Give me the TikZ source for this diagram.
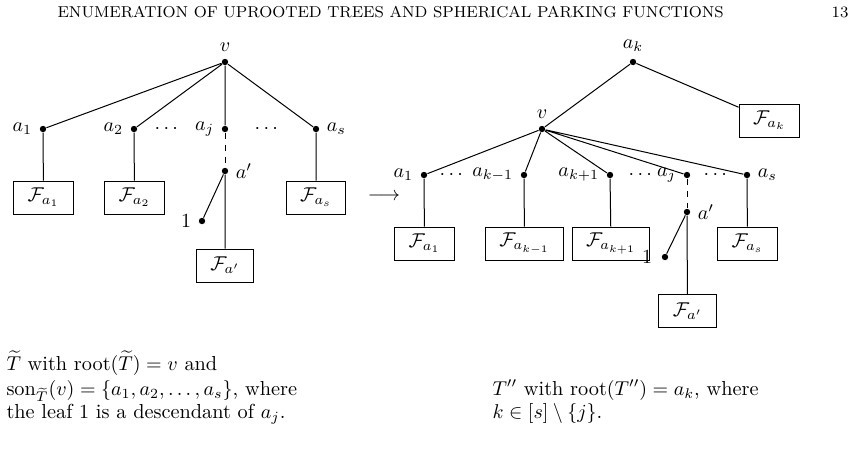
\documentclass[tikz,border=0pt]{standalone}
\usepackage{amsmath,amssymb}
\newcommand\bodyfnt{\fontsize{10.15}{12.2}\selectfont}
\newcommand\headfnt{\fontsize{7.9}{9}\selectfont}
\begin{document}
\begin{tikzpicture}[x=0.5pt,y=-0.5pt,line width=0.5pt,
  every node/.style={font=\bodyfnt},
  dot/.style={circle,fill,inner sep=0pt,minimum size=3.2pt},
  fbox/.style={draw,minimum height=16.5pt,inner xsep=7pt,inner ysep=2pt},
  txt/.style={anchor=base west,inner sep=0pt}]
\useasboundingbox (0,0) rectangle (857,462);
% header
\node[anchor=base west,inner sep=0pt,font=\headfnt] (head) at (57,17) {ENUMERATION OF UPROOTED TREES AND SPHERICAL PARKING FUNCTIONS};
\node[anchor=base east,inner sep=0pt,font=\headfnt] (pg) at (849,17) {13};
% ---------- left tree ----------
\node[dot,label={above:$v$}] (v) at (225,62) {};
\node[dot,label={left:$a_1$}] (a1) at (43,129) {};
\node[dot,label={left:$a_2$}] (a2) at (134,129) {};
\node[dot,label={left:$a_j$}] (aj) at (225,129) {};
\node[dot,label={right:$a_s$}] (as) at (316,129) {};
\node (d1) at (168,129) {$\cdots$};
\node (d2) at (268,129) {$\cdots$};
\node[dot,label={right:$a'$}] (ap) at (225,171) {};
\node[dot,label={left:$1$}] (one) at (202,221) {};
\node[fbox] (Fa1) at (43.5,197.5) {$\mathcal{F}_{a_1}$};
\node[fbox] (Fa2) at (134.5,197.5) {$\mathcal{F}_{a_2}$};
\node[fbox] (Fas) at (316,197.5) {$\mathcal{F}_{a_s}$};
\node[fbox] (Fap) at (225,265.5) {$\mathcal{F}_{a'}$};
\draw (v) -- (a1) (v) -- (a2) (v) -- (aj) (v) -- (as);
\draw (a1) -- (Fa1) (a2) -- (Fa2) (as) -- (Fas);
\draw[dashed] (aj) -- (ap);
\draw (ap) -- (one) (ap) -- (Fap);
% arrow
\node (arr) at (384,197) {$\longrightarrow$};
% ---------- right tree ----------
\node[dot,label={above:$a_k$}] (ak) at (633,62) {};
\node[fbox] (Fak) at (769.5,120.5) {$\mathcal{F}_{a_k}$};
\node[dot,label={above:$v$}] (rv) at (542,129) {};
\node[dot,label={left:$a_1$}] (ra1) at (424,175) {};
\node[dot,label={left:$a_{k-1}$}] (rakm) at (524,175) {};
\node[dot,label={left:$a_{k+1}$}] (rakp) at (610,175) {};
\node[dot,label={left:$a_j$}] (raj) at (687,175) {};
\node[dot,label={right:$a_s$}] (ras) at (747,175) {};
\node (rd1) at (453,175) {$\cdots$};
\node (rd2) at (642,175) {$\cdots$};
\node (rd3) at (717,175) {$\cdots$};
\node[dot,label={right:$a'$}] (rap) at (687,212) {};
\node[dot,label={[label distance=1pt]left:$1$}] (rone) at (665,257) {};
\node[fbox] (rFa1) at (424.5,243.5) {$\mathcal{F}_{a_1}$};
\node[fbox] (rFakm) at (524.5,243.5) {$\mathcal{F}_{a_{k-1}}$};
\node[fbox] (rFakp) at (611,243.5) {$\mathcal{F}_{a_{k+1}}$};
\node[fbox] (rFas) at (747.5,243.5) {$\mathcal{F}_{a_s}$};
\node[fbox] (rFap) at (687.5,311) {$\mathcal{F}_{a'}$};
\draw (ak) -- (rv) (ak) -- (Fak);
\draw (rv) -- (ra1) (rv) -- (rakm) (rv) -- (rakp) (rv) -- (raj) (rv) -- (ras);
\draw (ra1) -- (rFa1) (rakm) -- (rFakm) (rakp) -- (rFakp) (ras) -- (rFas);
\draw[dashed] (raj) -- (rap);
\draw (rap) -- (rone) (rap) -- (rFap);
% ---------- captions ----------
\node[txt] (l1) at (6,370) {$\widetilde{T}$ with root$(\widetilde{T})=v$ and};
\node[txt] (l2) at (6,395) {son$_{\widetilde{T}}(v)=\{a_1,a_2,\dots,a_s\}$, where};
\node[txt] (l3) at (6,418) {the leaf $1$ is a descendant of $a_j$.};
\node[txt] (r1) at (492,395) {$T''$ with root$(T'')=a_k$, where};
\node[txt] (r2) at (492,418) {$k\in[s]\setminus\{j\}$.};
\end{tikzpicture}
\end{document}
